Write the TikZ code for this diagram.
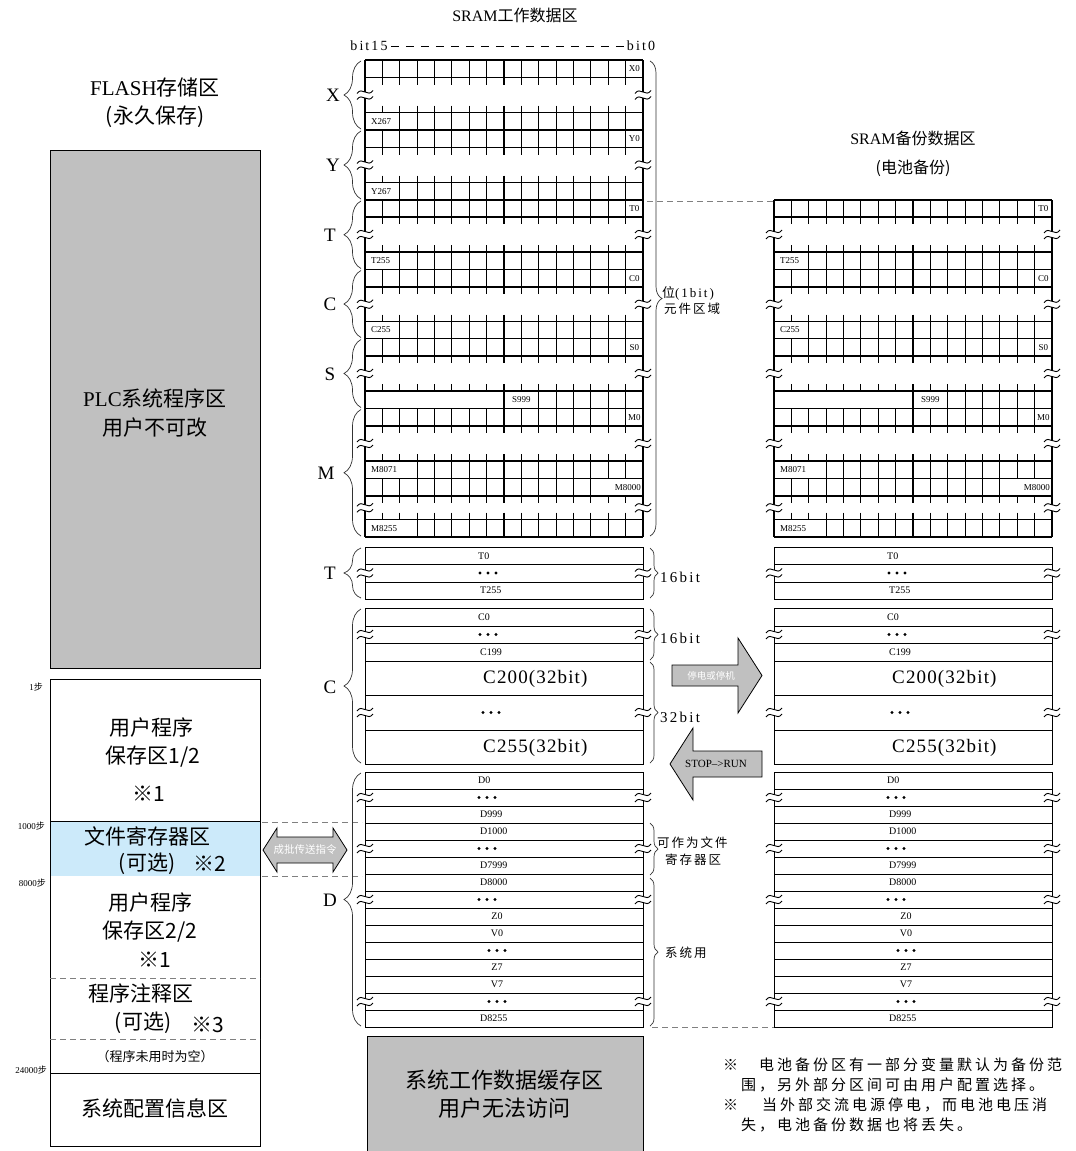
\documentclass[tikz,border=0pt]{standalone}
\usepackage{fontspec}
\setmainfont{Liberation Serif}
\newfontfamily\cjk{Noto Sans CJK SC}
\newfontfamily\cjkb[LetterSpace=16]{Noto Sans CJK SC}
\newfontfamily\cjkn[LetterSpace=20]{Noto Sans CJK SC}
\newfontfamily\rmsp[LetterSpace=15]{Liberation Serif}
\newfontfamily\rmspb[LetterSpace=6]{Liberation Serif}
\usetikzlibrary{decorations.pathreplacing}
\definecolor{gbox}{RGB}{192,192,192}
\definecolor{lblue}{RGB}{204,234,250}
\newcommand\fs[1]{\fontsize{#1}{#1}\selectfont}
\tikzset{
  gl/.style={line width=1.1pt,black},
  bx/.style={line width=1pt,black},
  tl/.style={line width=0.9pt,black},
  brc/.style={decorate,decoration={brace,amplitude=#1},line width=0.7pt,black!80},
  dl/.style={gray,line width=0.7pt,dash pattern=on 6pt off 4pt},
  arr/.style={fill=gbox,draw=black,line width=0.8pt},
  cl/.style={font=\fs{9},inner sep=0pt},
  wl/.style={font=\fs{10},inner sep=0pt},
  big/.style={font=\cjk\fs{21},inner sep=0pt},
  grp/.style={font=\fs{19},inner sep=0pt},
  stp/.style={font=\fs{9},inner sep=0pt,anchor=east},
}
\newcommand\wbrk[2]{%
  \fill[white] ({#1-2.2},{#2-3}) rectangle ({#1+2.2},{#2+3});
  \draw[tl] ({#1-8},{#2-1.5}) .. controls ({#1-3},{#2-9}) and ({#1+3},{#2+3}) .. ({#1+8},{#2-4.5});
  \draw[tl] ({#1-8},{#2+4.5}) .. controls ({#1-3},{#2-3}) and ({#1+3},{#2+9}) .. ({#1+8},{#2+1.5});
}
\newcommand\brow[4]{%
  \draw[gl] (#1,#2) -- ({#1+278},#2) (#1,#3) -- ({#1+278},#3) (#1,#2) -- (#1,#3) ({#1+278},#2) -- ({#1+278},#3);
  \foreach \i in {#4}{\draw[gl] ({#1+\i*17.375},#2) -- ({#1+\i*17.375},#3);}
}
\newcommand\bgap[3]{%
  \foreach \i in {1,...,15}{\draw[gl] ({#1+\i*17.375},#2) -- ({#1+\i*17.375},{#2+7}) ({#1+\i*17.375},{#3-7}) -- ({#1+\i*17.375},#3);}
  \draw[gl] (#1,#2) -- (#1,#3) ({#1+278},#2) -- ({#1+278},#3);
  \wbrk{#1}{(#2+#3)/2}\wbrk{#1+278}{(#2+#3)/2}
}
\newcommand\tgrid[1]{%
  \brow{#1}{200}{217}{1,...,15}\bgap{#1}{217}{252}\brow{#1}{252}{269.5}{2,...,15}
  \brow{#1}{269.5}{287}{1,...,15}\bgap{#1}{287}{321.5}\brow{#1}{321.5}{338.5}{2,...,15}
  \brow{#1}{338.5}{356}{1,...,15}\bgap{#1}{356}{391}\brow{#1}{391}{408.5}{8,10,11,12,13,14,15}
  \brow{#1}{408.5}{426}{1,...,15}\bgap{#1}{426}{461}\brow{#1}{461}{478.5}{3,...,15}
  \brow{#1}{478.5}{496}{1,...,13}\bgap{#1}{496}{519.5}\brow{#1}{519.5}{537}{3,...,15}
  \node[cl] at ({#1+269.3},208.5) {T0};
  \node[cl,anchor=west] at ({#1+6},260.75) {T255};
  \node[cl] at ({#1+269.3},278.25) {C0};
  \node[cl,anchor=west] at ({#1+6},330) {C255};
  \node[cl] at ({#1+269.3},347.25) {S0};
  \node[cl] at ({#1+156.4},399.75) {S999};
  \node[cl] at ({#1+269.3},417.25) {M0};
  \node[cl,anchor=west] at ({#1+6},469.75) {M8071};
  \node[cl,anchor=east] at ({#1+276},487.25) {M8000};
  \node[cl,anchor=west] at ({#1+6},528.25) {M8255};
}
\newcommand\tdots[2]{\fill ({#1-8},#2) circle (1.6) (#1,#2) circle (1.6) ({#1+8},#2) circle (1.6);}
\newcommand\wboxes[1]{%
  % T 16bit
  \draw[bx] (#1,547) rectangle ({#1+278},599);
  \foreach \y in {564,582}{\draw[bx] (#1,\y) -- ({#1+278},\y);}
  \wbrk{#1}{573}\wbrk{#1+278}{573}
  \node[wl,anchor=west] at ({#1+113},556) {T0};
  \tdots{#1+123}{573}
  \node[wl,anchor=west] at ({#1+115},590.5) {T255};
  % C
  \draw[bx] (#1,608) rectangle ({#1+278},764);
  \foreach \y in {626,643,661,695,730}{\draw[bx] (#1,\y) -- ({#1+278},\y);}
  \wbrk{#1}{634.5}\wbrk{#1+278}{634.5}
  \wbrk{#1}{712.5}\wbrk{#1+278}{712.5}
  \node[wl,anchor=west] at ({#1+113},617) {C0};
  \tdots{#1+123}{634.5}
  \node[wl,anchor=west] at ({#1+115},652) {C199};
  \node[font=\rmspb\fs{19},inner sep=0pt,anchor=west] at ({#1+118},679) {C200(32bit)};
  \tdots{#1+126}{712.5}
  \node[font=\rmspb\fs{19},inner sep=0pt,anchor=west] at ({#1+118},748) {C255(32bit)};
  % D
  \draw[bx] (#1,772) rectangle ({#1+278},1027);
  \foreach \k in {1,...,14}{\draw[bx] (#1,{772+17*\k}) -- ({#1+278},{772+17*\k});}
  \foreach \k in {1,4,7,13}{\wbrk{#1}{780.5+17*\k}\wbrk{#1+278}{780.5+17*\k}}
  \node[wl,anchor=west] at ({#1+113},780.5) {D0};
  \tdots{#1+122}{797.5}
  \node[wl,anchor=west] at ({#1+115},814.5) {D999};
  \node[wl,anchor=west] at ({#1+115},831.5) {D1000};
  \tdots{#1+122}{848.5}
  \node[wl,anchor=west] at ({#1+115},865.5) {D7999};
  \node[wl,anchor=west] at ({#1+115},882.5) {D8000};
  \tdots{#1+122}{899.5}
  \node[wl] at ({#1+132},916.5) {Z0};
  \node[wl] at ({#1+132},933.5) {V0};
  \tdots{#1+132}{950.5}
  \node[wl] at ({#1+132},967.5) {Z7};
  \node[wl] at ({#1+132},984.5) {V7};
  \tdots{#1+132}{1001.5}
  \node[wl,anchor=west] at ({#1+115},1018.5) {D8255};
}
\begin{document}
\begin{tikzpicture}[x=1pt,y=-1pt]
\useasboundingbox (0,0) rectangle (1076,1151);
\fill[white] (0,0) rectangle (1076,1151);

% ---------- FLASH column ----------
\node[inner sep=0pt,font=\fs{21}] (flash) at (155,87) {FLASH{\cjk 存储区}};
\node[inner sep=0pt,font=\cjk\fs{21}] (flash2) at (155,117) {(永久保存)};
\node[draw=black,line width=1pt,fill=gbox,minimum width=210pt,minimum height=518pt,anchor=north west,inner sep=0pt] (plc) at (50,150) {};
\node[inner sep=0pt,font=\fs{21}] (plc1) at (155,398) {PLC{\cjk 系统程序区}};
\node[big] (plc2) at (155,428) {用户不可改};

\fill[lblue] (50,821) rectangle (260,876);
\node[draw=black,line width=1pt,minimum width=210pt,minimum height=467pt,anchor=north west,inner sep=0pt] (ubox) at (50,679) {};
\draw[bx] (50,821) -- (260,821);
\draw[bx] (50,1073) -- (260,1073);
\draw[dl] (50,978) -- (260,978);
\draw[dl] (50,1039) -- (260,1039);
\node[big] (u1) at (151,728) {用户程序};
\node[big] (u2) at (153,757) {保存区1/2};
\node[big] (u3) at (149,794) {※1};
\node[big] (f1) at (147,836) {文件寄存器区};
\node[big] (f2) at (147,864) {(可选)};
\node[big] (f3) at (210,864) {※2};
\node[big] (u4) at (150,903) {用户程序};
\node[big] (u5) at (150,932) {保存区2/2};
\node[big] (u6) at (155,960) {※1};
\node[big] (c1) at (141,993) {程序注释区};
\node[big] (c2) at (143,1023) {(可选)};
\node[big] (c3) at (208,1025) {※3};
\node[inner sep=0pt,font=\cjk\fs{13}] (c4) at (155,1057) {（程序未用时为空）};
\node[big] (s1) at (155,1108) {系统配置信息区};
\node[stp] (st1) at (43,687) {1{\cjk 步}};
\node[stp] (st2) at (45,826) {1000{\cjk 步}};
\node[stp] (st3) at (46,883) {8000{\cjk 步}};
\node[stp] (st4) at (47,1070) {24000{\cjk 步}};

% double arrow
\draw[arr] (277,837) -- (333,837) -- (333,828) -- (347,850) -- (333,872) -- (333,863) -- (277,863) -- (277,872) -- (263,850) -- (277,828) -- cycle;
\node[inner sep=0pt,font=\cjk\fs{10.5},white] (batch) at (305,850) {成批传送指令};
\draw[dl] (262,822) -- (362,822);
\draw[dl] (262,876) -- (362,876);

% ---------- SRAM work area ----------
\node[inner sep=0pt,font=\fs{16}] (t1) at (515,15) {SRAM{\cjk 工作数据区}};
\node[inner sep=0pt,font=\rmsp\fs{14}] (b15) at (369,46) {bit15};
\node[inner sep=0pt,font=\rmsp\fs{14}] (b0) at (641,46) {bit0};
\draw[line width=0.9pt,dash pattern=on 8pt off 7pt] ([xshift=3pt]b15.east) -- ([xshift=-3pt]b0.west);

\brow{365}{60}{77.5}{1,...,15}\bgap{365}{77.5}{112.5}\brow{365}{112.5}{130}{2,...,15}
\brow{365}{130}{147.5}{1,...,15}\bgap{365}{147.5}{182.5}\brow{365}{182.5}{200}{2,...,15}
\node[cl] (x0) at (634.3,68.75) {X0};
\node[cl,anchor=west] (x267) at (371,121.25) {X267};
\node[cl] (y0) at (634.3,138.75) {Y0};
\node[cl,anchor=west] (y267) at (371,191.25) {Y267};
\tgrid{365}
\wboxes{365}

% left braces and labels
\draw[brc=17] (361,129) -- (361,61);
\draw[brc=17] (361,199) -- (361,131);
\draw[brc=17] (361,268.5) -- (361,201);
\draw[brc=17] (361,337.5) -- (361,270.5);
\draw[brc=17] (361,407.5) -- (361,339.5);
\draw[brc=17] (361,536) -- (361,409.5);
\draw[brc=17] (361,598) -- (361,548);
\draw[brc=17] (361,763) -- (361,609);
\draw[brc=17] (361,1026) -- (361,773);
\node[grp] (gX) at (333,95) {X};
\node[grp] (gY) at (333,165) {Y};
\node[grp] (gT) at (330,235) {T};
\node[grp] (gC) at (330,304) {C};
\node[grp] (gS) at (330,374) {S};
\node[grp] (gM) at (326,473) {M};
\node[grp] (gT2) at (330,573) {T};
\node[grp] (gC2) at (330,687) {C};
\node[grp] (gD) at (330,900) {D};

% right braces
\draw[brc=12] (650,61) -- (650,536);
\node[inner sep=0pt,anchor=west,font=\fs{13}] (bitl1) at (662,293) {{\cjkb 位}{\rmsp(1bit)}};
\node[inner sep=0pt,anchor=west,font=\cjkb\fs{12.5}] (bitl2) at (664,309) {元件区域};
\draw[brc=8] (650,548) -- (650,598);
\node[inner sep=0pt,anchor=west,font=\rmsp\fs{15}] (w16a) at (660,577) {16bit};
\draw[brc=8] (650,609) -- (650,660);
\node[inner sep=0pt,anchor=west,font=\rmsp\fs{15}] (w16b) at (660,638) {16bit};
\draw[brc=8] (650,662) -- (650,763);
\node[inner sep=0pt,anchor=west,font=\rmsp\fs{15}] (w32) at (660,717) {32bit};
\draw[brc=8] (650,823) -- (650,875);
\node[inner sep=0pt,anchor=west,font=\cjkb\fs{12.5}] (fr1) at (657,843) {可作为文件};
\node[inner sep=0pt,anchor=west,font=\cjkb\fs{12.5}] (fr2) at (665,860) {寄存器区};
\draw[brc=8] (650,878) -- (650,1026);
\node[inner sep=0pt,anchor=west,font=\cjkb\fs{12.5}] (sys) at (665,953) {系统用};

% bottom gray box
\draw[line width=1pt,fill=gbox] (367,1160) -- (367,1036) -- (643,1036) -- (643,1160);
\node[inner sep=0pt,font=\cjk\fs{22}] (sw1) at (504,1080) {系统工作数据缓存区};
\node[inner sep=0pt,font=\cjk\fs{22}] (sw2) at (504,1108) {用户无法访问};

% big arrows
\draw[arr] (672,665) -- (738,665) -- (738,638) -- (762,675.5) -- (738,713) -- (738,686) -- (672,686) -- cycle;
\node[inner sep=0pt,font=\cjk\fs{9.5},white] (pw) at (711,676) {停电或停机};
\draw[arr] (762,751) -- (693,751) -- (693,728) -- (670,764) -- (693,800) -- (693,777) -- (762,777) -- cycle;
\node[inner sep=0pt,font=\fs{11}] (sr) at (716,764) {STOP-->RUN};

% dashed links
\draw[dl] (647,201) -- (774,201);
\draw[dl] (652,1027) -- (774,1027);

% ---------- SRAM backup area ----------
\node[inner sep=0pt,font=\fs{16}] (t2) at (913,138) {SRAM{\cjk 备份数据区}};
\node[inner sep=0pt,font=\cjk\fs{16}] (t3) at (913,168) {(电池备份)};
\tgrid{774}
\wboxes{774}

% notes
\node[inner sep=0pt,anchor=west,font=\cjk\fs{15}] (n1) at (723,1065) {※};
\node[inner sep=0pt,anchor=west,font=\cjkn\fs{15}] (n2) at (759,1065) {电池备份区有一部分变量默认为备份范};
\node[inner sep=0pt,anchor=west,font=\cjkn\fs{15}] (n3) at (741,1085) {围，另外部分区间可由用户配置选择。};
\node[inner sep=0pt,anchor=west,font=\cjk\fs{15}] (n4) at (723,1105) {※};
\node[inner sep=0pt,anchor=west,font=\cjkn\fs{15}] (n5) at (762,1105) {当外部交流电源停电，而电池电压消};
\node[inner sep=0pt,anchor=west,font=\cjkn\fs{15}] (n6) at (741,1125) {失，电池备份数据也将丢失。};
\end{tikzpicture}
\end{document}
